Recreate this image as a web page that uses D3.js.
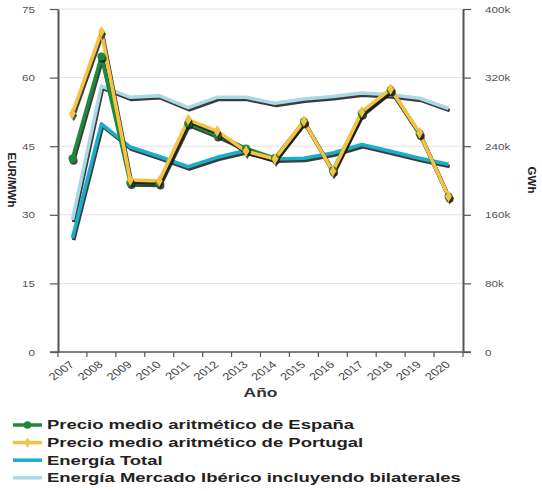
<!DOCTYPE html>
<html><head><meta charset="utf-8">
<script src="https://cdn.jsdelivr.net/npm/d3@7"></script>
<style>
html,body{margin:0;padding:0;background:#fff;}
svg{display:block;font-family:"Liberation Sans",Arial,sans-serif;}
</style></head>
<body><svg id="c" width="542" height="491"></svg>
<script>
const years = [2007,2008,2009,2010,2011,2012,2013,2014,2015,2016,2017,2018,2019,2020];
const precioEspana = [42.3,64.6,37.0,36.9,50.0,47.4,44.5,42.4,50.4,39.7,52.2,57.3,47.7,34.0];
const precioPortugal = [52.2,70.0,37.6,37.4,50.8,48.3,43.9,42.2,50.5,39.5,52.5,57.5,47.9,34.0];
const energiaTotal = [133000,266000,239000,228000,216000,227000,235000,225000,226000,232000,242000,234000,226000,219000];
const energiaIberico = [154000,310000,297000,299000,285000,297000,297000,290000,295000,298000,302000,300000,296000,284000];
const leftTicks = [0,15,30,45,60,75];
const rightTicks = [0,80000,160000,240000,320000,400000];
const legendLabels = ["Precio medio aritmético de España","Precio medio aritmético de Portugal","Energía Total","Energía Mercado Ibérico incluyendo bilaterales"];
const colors = ["#1b8a3c","#f5c242","#1aaecb","#a9d8e6"];

const L=58,R=463,T=9,B=352;
const svg=d3.select("#c");
const x=d3.scaleBand().domain(years).range([L,R]).padding(0);
const yL=d3.scaleLinear().domain([0,75]).range([B,T]);
const yR=d3.scaleLinear().domain([0,400000]).range([B,T]);

// gridlines
svg.append("g").selectAll("line").data(leftTicks.filter(d=>d>0)).join("line")
  .attr("x1",L).attr("x2",R).attr("y1",d=>yL(d)).attr("y2",d=>yL(d))
  .attr("stroke","#e2e2e2").attr("stroke-width",1);

const axisColor="#555";
// left axis
const gL=svg.append("g").attr("transform",`translate(${L},0)`)
  .call(d3.axisLeft(yL).tickValues(leftTicks).tickSize(8).tickSizeOuter(0));
gL.select(".domain").attr("stroke",axisColor).attr("stroke-width",2);
gL.selectAll(".tick line").attr("stroke",axisColor).attr("stroke-width",1.2);
gL.selectAll(".tick text").attr("x",0).attr("dy","0.35em").attr("fill","#555")
  .attr("font-size",9).attr("text-anchor","end")
  .attr("transform","translate(-23,0) scale(1.3,1)");
// right axis
const gR=svg.append("g").attr("transform",`translate(${R},0)`)
  .call(d3.axisRight(yR).tickValues(rightTicks).tickSize(8).tickSizeOuter(0)
    .tickFormat(d=>d===0?"0":(d/1000)+"k"));
gR.select(".domain").attr("stroke",axisColor).attr("stroke-width",2);
gR.selectAll(".tick line").attr("stroke",axisColor).attr("stroke-width",1.2);
gR.selectAll(".tick text").attr("x",0).attr("dy","0.35em").attr("fill","#555")
  .attr("font-size",9).attr("text-anchor","start")
  .attr("transform","translate(22,0) scale(1.3,1)");
// bottom axis
const gB=svg.append("g").attr("transform",`translate(0,${B})`)
  .call(d3.axisBottom(x).tickSize(0).tickSizeOuter(0));
gB.select(".domain").remove();
gB.selectAll(".tick text").attr("x",0).attr("y",0).attr("dy",0).attr("fill","#444")
  .attr("font-size",10).attr("text-anchor","end")
  .attr("transform","translate(2.5,13.5) scale(1.3,1) rotate(-43)");
// x axis line and edge ticks
svg.append("line").attr("x1",L-8).attr("x2",R+8).attr("y1",B).attr("y2",B)
  .attr("stroke",axisColor).attr("stroke-width",1.5);
svg.append("g").selectAll("line").data(years.concat([null])).join("line")
  .attr("x1",(d,i)=>L+i*x.step()).attr("x2",(d,i)=>L+i*x.step())
  .attr("y1",B).attr("y2",B+5).attr("stroke",axisColor).attr("stroke-width",1.2);

// axis titles
svg.append("text").attr("transform","translate(7.5,180) rotate(90)").attr("text-anchor","middle")
  .attr("font-size",11.5).attr("font-weight","bold").attr("fill","#222").text("EUR/MWh");
svg.append("text").attr("transform","translate(528,180) rotate(90)").attr("text-anchor","middle")
  .attr("font-size",11.5).attr("font-weight","bold").attr("fill","#222").text("GWh");
svg.append("text").attr("transform",`translate(${(L+R)/2},397) scale(1.45,1)`).attr("text-anchor","middle")
  .attr("font-size",12).attr("font-weight","bold").attr("fill","#333").text("Año");

// series
const cx=d=>x(d)+x.bandwidth()/2;
function drawLine(vals,scale,color,w){
  const line=d3.line().x((d,i)=>cx(years[i])).y(d=>scale(d));
  svg.append("path").attr("d",line(vals)).attr("fill","none").attr("stroke","#1a1a1a")
    .attr("stroke-opacity",0.85).attr("stroke-width",w).attr("stroke-linejoin","round")
    .attr("transform","translate(1.2,2.2)");
  svg.append("path").attr("d",line(vals)).attr("fill","none").attr("stroke",color)
    .attr("stroke-width",w).attr("stroke-linejoin","round");
}
drawLine(energiaIberico,yR,colors[3],3.6);
drawLine(energiaTotal,yR,colors[2],3.6);
drawLine(precioEspana,yL,colors[0],3.6);
drawLine(precioPortugal,yL,colors[1],3.6);
// markers
function drawMarkers(vals,type,color,size){
  const sym=d3.symbol().type(type).size(size);
  const g=svg.append("g");
  g.selectAll("path.s").data(vals).join("path").attr("class","s").attr("d",sym)
    .attr("transform",(d,i)=>`translate(${cx(years[i])+1.2},${yL(d)+2.2})`).attr("fill","#1a1a1a").attr("opacity",0.8);
  g.selectAll("path.m").data(vals).join("path").attr("class","m").attr("d",sym)
    .attr("transform",(d,i)=>`translate(${cx(years[i])},${yL(d)})`).attr("fill",color);
}
drawMarkers(precioEspana,d3.symbolCircle,colors[0],50);
drawMarkers(precioPortugal,d3.symbolDiamond,colors[1],40);

// legend
const lg=svg.append("g");
legendLabels.forEach((lab,i)=>{
  const yy=425+i*17.6;
  lg.append("line").attr("x1",13).attr("x2",42).attr("y1",yy).attr("y2",yy)
    .attr("stroke",colors[i]).attr("stroke-width",3.5);
  if(i===0) lg.append("path").attr("d",d3.symbol().type(d3.symbolCircle).size(45)()).attr("transform",`translate(27.5,${yy})`).attr("fill",colors[0]);
  if(i===1) lg.append("path").attr("d",d3.symbol().type(d3.symbolDiamond).size(30)()).attr("transform",`translate(27.5,${yy})`).attr("fill",colors[1]);
  lg.append("text").attr("transform",`translate(47,${yy+4.4}) scale(1.54,1)`)
    .attr("font-size",12).attr("font-weight","bold").attr("fill","#222").text(lab);
});
</script></body></html>
